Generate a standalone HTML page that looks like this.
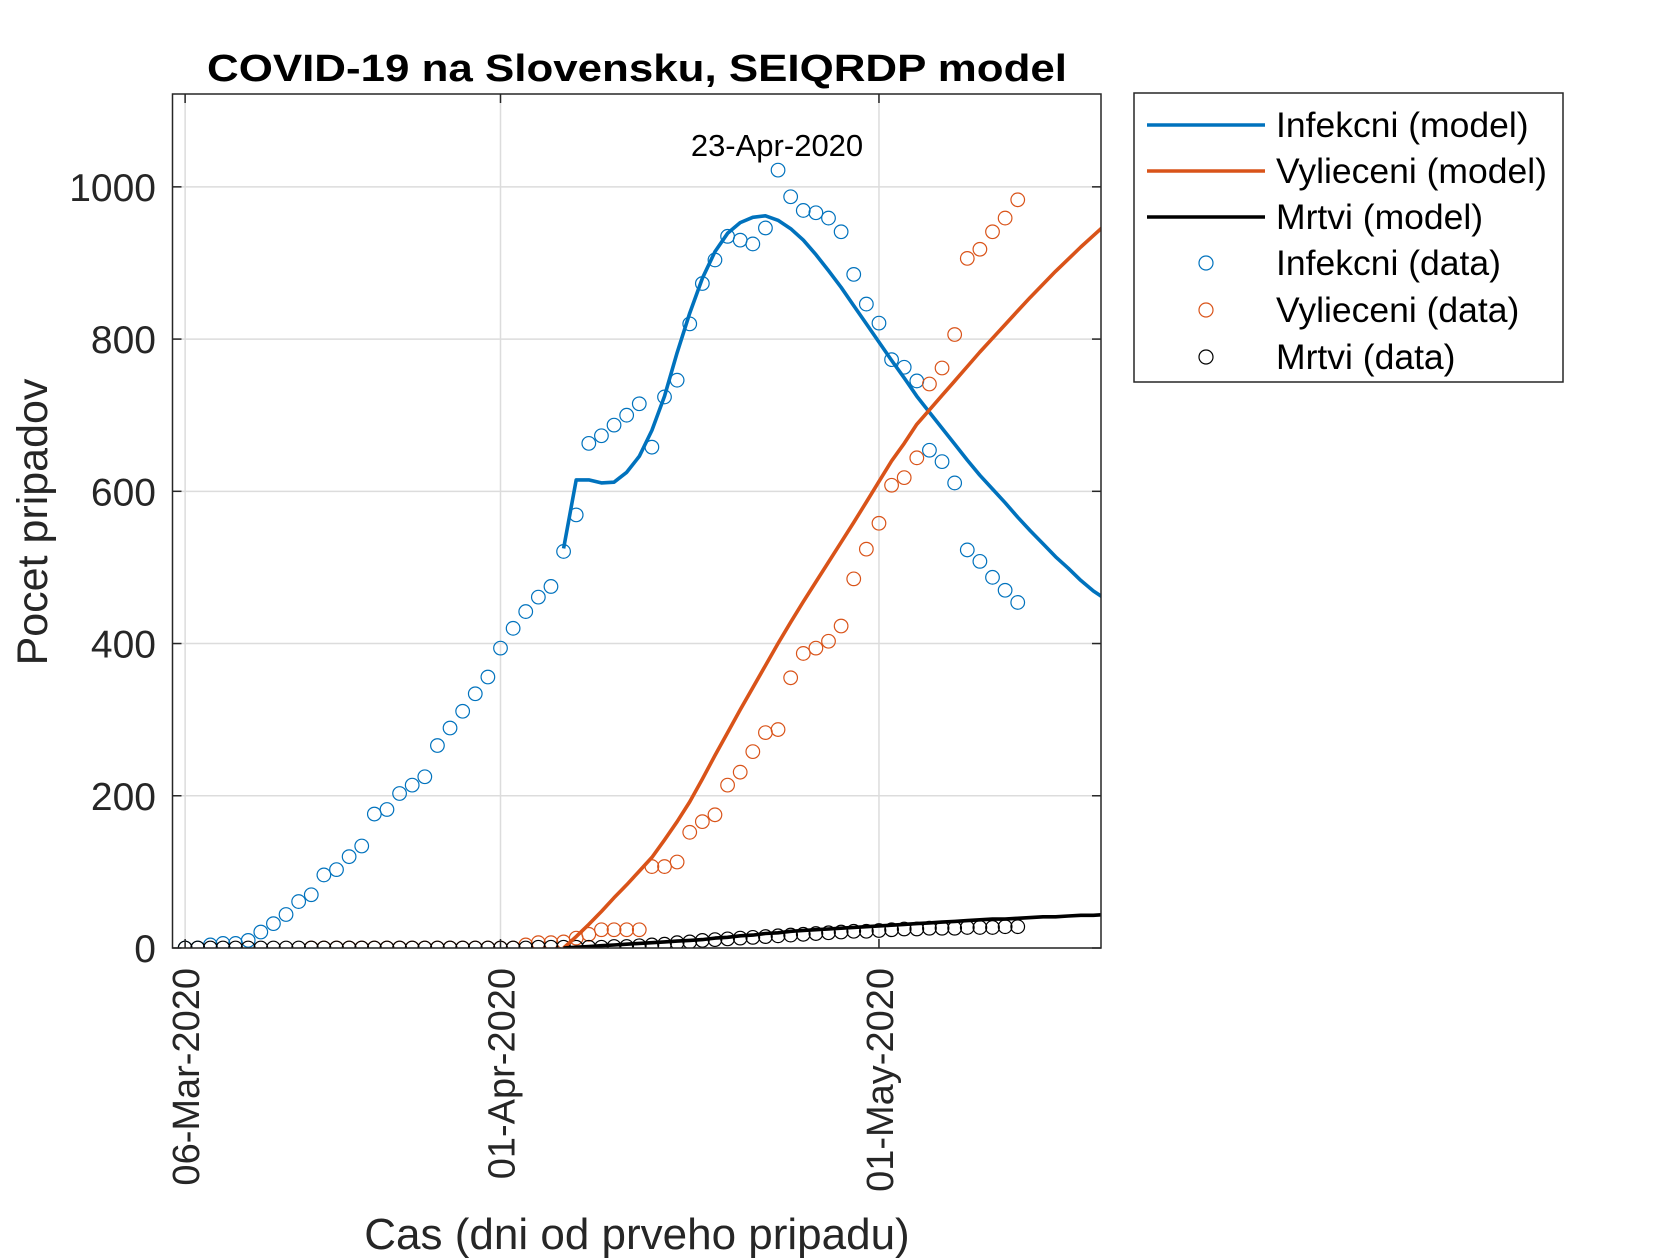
<!DOCTYPE html>
<html><head><meta charset="utf-8"><style>
html,body{margin:0;padding:0;background:#fff;}
svg{display:block;font-family:"Liberation Sans",sans-serif;}
</style></head><body>
<svg id="chart" width="1680" height="1260" viewBox="0 0 1680 1260">
<defs><clipPath id="axclip"><rect x="172.5" y="94" width="928.5" height="854"/></clipPath></defs>
<rect x="0" y="0" width="1680" height="1260" fill="#fff"/>
<g id="grid"></g>
<g id="plot" clip-path="url(#axclip)"></g>
<rect x="172.5" y="94" width="928.5" height="854" fill="none" stroke="#262626" stroke-width="1.5"/>
<g id="ticks"></g>
<text x="637" y="81" text-anchor="middle" font-size="38" font-weight="bold" textLength="860" lengthAdjust="spacingAndGlyphs">COVID-19 na Slovensku, SEIQRDP model</text>
<text x="637" y="1249" text-anchor="middle" font-size="44" fill="#262626">Cas (dni od prveho pripadu)</text>
<text transform="translate(47,522) rotate(-90)" text-anchor="middle" font-size="43" fill="#262626">Pocet pripadov</text>
<text x="777" y="156" text-anchor="middle" font-size="31" fill="#000">23-Apr-2020</text>
<g id="legend">
<rect x="1134" y="93" width="429" height="289" fill="#fff" stroke="#262626" stroke-width="1.5"/>
</g>
</svg>
<script>
const infData=[0,0,4,6,6,10,21,32,44,61,70,96,103,120,134,176,182,203,214,225,266,289,311,334,356,394,420,442,461,475,521,569,663,673,687,700,715,658,724,746,820,873,904,935,930,925,946,1022,987,969,966,959,941,885,846,821,773,763,745,654,639,611,523,508,487,470,454];
const recStartDay=10;
const recData=[0,0,0,0,0,0,0,0,0,0,0,0,0,0,0,0,0,4,7,7,8,13,18,24,24,24,24,107,107,113,152,166,175,214,231,258,283,287,355,387,394,403,423,485,524,558,608,618,644,741,762,806,906,918,941,959,983];
const deadData=[0,0,0,0,0,0,0,0,0,0,0,0,0,0,0,0,0,0,0,0,0,0,0,0,0,0,0,0,1,1,1,1,1,1,2,2,3,4,5,7,8,10,11,12,13,14,15,16,17,18,19,20,21,22,22,23,24,25,25,26,26,26,27,27,27,28,28];
const modelStartDay=30;
const infModel=[525,615,615,611,612,625,646,680,725,782,834,880,915,939,953,960,962,956,945,930,911,890,868,844,820,796,772,749,725,704,683,662,641,621,603,585,566,548,531,514,499,483,469,458];
const recModel=[0,15,31,48,66,83,101,119,142,166,192,222,253,283,313,342,371,400,428,455,481,507,533,559,586,613,640,663,688,707,726,745,764,783,801,819,837,855,872,889,905,921,936,951];
const deadModel=[0,1,2,3,4,5,6,7,8,9,10,11,13,14,16,17,19,20,22,23,24,25,26,27,28,29,30,31,32,33,34,35,36,37,38,38,39,40,41,41,42,43,43,44];
const yTicks=[0,200,400,600,800,1000];
const xTickDays=[0,25,55];
const xTickLabels=["06-Mar-2020","01-Apr-2020","01-May-2020"];
const legendLabels=["Infekcni (model)","Vylieceni (model)","Mrtvi (model)","Infekcni (data)","Vylieceni (data)","Mrtvi (data)"];

const NS="http://www.w3.org/2000/svg";
const X0=172.5,X1=1101,Y0=948,Y1=94,XMIN=-1,XMAX=72.6,YMIN=0,YMAX=1122;
const sx=d=>X0+(d-XMIN)/(XMAX-XMIN)*(X1-X0);
const sy=v=>Y0-(v-YMIN)/(YMAX-YMIN)*(Y0-Y1);
const BLUE="#0072BD",ORANGE="#D95319",BLACK="#000000";
function mk(tag,attrs,parent){const e=document.createElementNS(NS,tag);for(const k in attrs)e.setAttribute(k,attrs[k]);parent.appendChild(e);return e;}
const grid=document.getElementById('grid'),plot=document.getElementById('plot'),ticks=document.getElementById('ticks'),legend=document.getElementById('legend');

yTicks.forEach(v=>{
  const g=mk('line',{x1:X0,x2:X1,y1:sy(v),y2:sy(v),stroke:'#dcdcdc','stroke-width':1.5},grid);
  
  
  mk('line',{x1:X0,x2:X0+9,y1:sy(v),y2:sy(v),stroke:'#262626','stroke-width':1.5},ticks);
  mk('line',{x1:X1,x2:X1-9,y1:sy(v),y2:sy(v),stroke:'#262626','stroke-width':1.5},ticks);
  const t=mk('text',{x:156,y:sy(v)+14,'text-anchor':'end','font-size':39,fill:'#262626'},ticks);
  t.textContent=String(v);
  
  
});
xTickDays.forEach((d,i)=>{
  const g=mk('line',{x1:sx(d),x2:sx(d),y1:Y0,y2:Y1,stroke:'#dcdcdc','stroke-width':1.5},grid);
  
  
  mk('line',{x1:sx(d),x2:sx(d),y1:Y0,y2:Y0-9,stroke:'#262626','stroke-width':1.5},ticks);
  mk('line',{x1:sx(d),x2:sx(d),y1:Y1,y2:Y1+9,stroke:'#262626','stroke-width':1.5},ticks);
  const t=mk('text',{transform:`translate(${sx(d)+14},968) rotate(-90)`,'text-anchor':'end','font-size':38,fill:'#262626'},ticks);
  t.textContent=xTickLabels[i];
  
  
});

function circles(vals,start,color,name){
  vals.forEach((v,i)=>{
    const c=mk('circle',{cx:sx(start+i),cy:sy(v),r:6.8,fill:'none',stroke:color,'stroke-width':1.2},plot);
    
    
  });
}
function line(vals,start,color,name){
  const pts=vals.map((v,i)=>sx(start+i).toFixed(1)+','+sy(v).toFixed(1)).join(' ');
  const p=mk('polyline',{points:pts,fill:'none',stroke:color,'stroke-width':3.6,'stroke-linejoin':'round'},plot);
  
  
}
circles(infData,0,BLUE,'infekcni-data-point');
circles(recData,recStartDay,ORANGE,'vylieceni-data-point');
circles(deadData,0,BLACK,'mrtvi-data-point');
line(infModel,modelStartDay,BLUE,'infekcni-model-line');
line(recModel,modelStartDay,ORANGE,'vylieceni-model-line');
line(deadModel,modelStartDay,BLACK,'mrtvi-model-line');

const legColors=[BLUE,ORANGE,BLACK,BLUE,ORANGE,BLACK];
const rowY=[125,171,217,263,310,357];
legendLabels.forEach((lab,i)=>{
  const y=rowY[i];
  if(i<3){
    const l=mk('line',{x1:1147,x2:1265,y1:y,y2:y,stroke:legColors[i],'stroke-width':3.6},legend);
    
    
  }else{
    const c=mk('circle',{cx:1206,cy:y,r:7,fill:'none',stroke:legColors[i],'stroke-width':1.2},legend);
    
    
  }
  const t=mk('text',{x:1276,y:y+12,'font-size':35.5,fill:'#000'},legend);
  t.textContent=lab;
  
  
});
</script>
</body></html>
